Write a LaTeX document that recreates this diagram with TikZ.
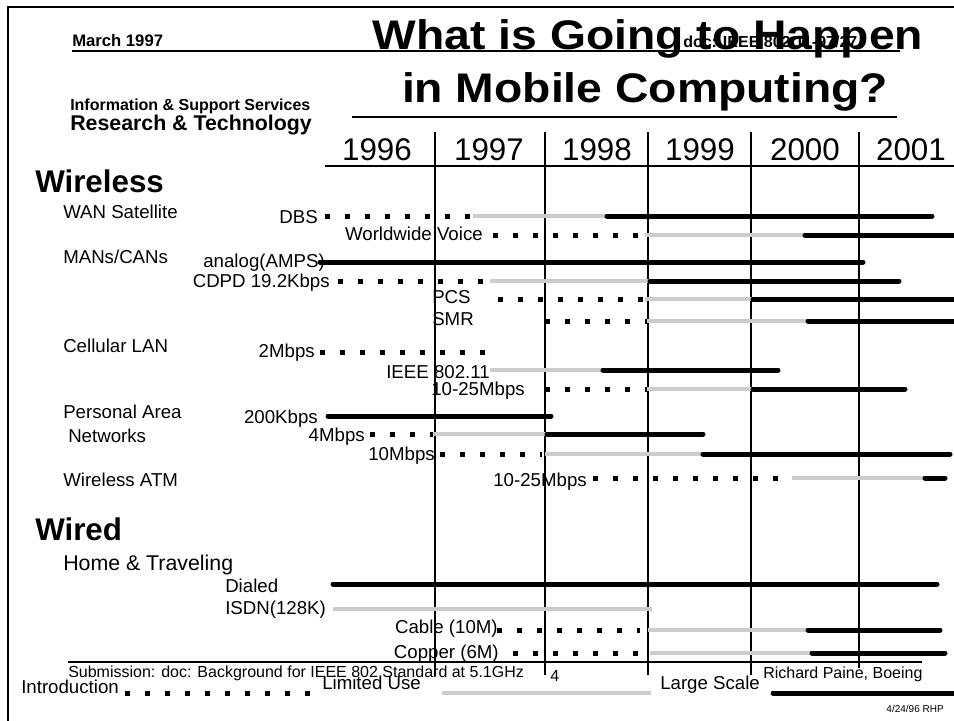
\documentclass[tikz,border=0pt]{standalone}
\usepackage{graphicx}
\usepackage{fontspec}
\setmainfont{Liberation Sans}
\usetikzlibrary{positioning}

\begin{document}
\begin{tikzpicture}[x=0.75pt, y=-0.75pt,
    lbl/.style={inner sep=0pt, font=\fontsize{14}{16}\selectfont},
    year/.style={inner sep=0pt, anchor=base, font=\fontsize{23.5}{26}\selectfont},
    section/.style={inner sep=0pt, anchor=mid west, font=\bfseries\fontsize{23.5}{26}\selectfont},
    headline/.style={inner sep=0pt, anchor=base, font=\bfseries\fontsize{31}{36}\selectfont},
    intro/.style={line width=3.75pt, dash pattern=on 3.75pt off 11.25pt},
    limited/.style={line width=3.2pt, draw=usegray},
    large/.style={line width=3.75pt, line cap=round},
    grid/.style={line width=0.9pt}]
  \definecolor{usegray}{HTML}{CCCCCC}

  \useasboundingbox (0,0) rectangle (954,721);
  \draw[line width=1pt] (8,721) -- (8,7) -- (954,7);

  % header
  \node[inner sep=0pt, anchor=mid west, font=\bfseries\fontsize{12.5}{14}\selectfont] (date) at (72,43) {March 1997};
  \draw[line width=1.2pt] (72,51) -- (900,51);
  \node[inner sep=0pt, anchor=mid west, font=\bfseries\fontsize{12}{14}\selectfont] (docnum) at (683,44) {doc: IEEE 802.11-97/27};
  \node[headline] (title1) at (648,50) {\scalebox{1.12}[1]{What is Going to Happen}};
  \node[headline] (title2) at (645,102) {\scalebox{1.12}[1]{in Mobile Computing?}};
  \draw[line width=1.2pt] (352,117) -- (897,117);
  \node[inner sep=0pt, anchor=mid west, font=\bfseries\fontsize{12}{14}\selectfont] (dept) at (70,107) {Information \& Support Services};
  \node[inner sep=0pt, anchor=mid west, font=\bfseries\fontsize{16}{18}\selectfont] (group) at (70,127) {Research \& Technology};

  % years and grid
  \node[year] (y1996) at (377,160) {1996};
  \node[year] (y1997) at (489,160) {1997};
  \node[year] (y1998) at (597,160) {1998};
  \node[year] (y1999) at (700,160) {1999};
  \node[year] (y2000) at (805,160) {2000};
  \node[year] (y2001) at (911,160) {2001};
  \draw[grid] (325,166) -- (954,166);
  \draw[grid] (435,132) -- (435,676);
  \draw[grid] (545,132) -- (545,675);
  \draw[grid] (648,132) -- (648,675);
  \draw[grid] (751,132) -- (751,675);
  \draw[grid] (859,132) -- (859,668);

  % wireless
  \node[section] (wireless) at (35,189) {Wireless};
  \node[lbl, anchor=mid west] (wan) at (63,215) {WAN Satellite};
  \node[lbl, anchor=mid west] (mans) at (63,260) {MANs/CANs};
  \node[lbl, anchor=mid west] (cellular) at (63,349) {Cellular LAN};
  \node[lbl, anchor=mid west] (pan1) at (63,415) {Personal Area};
  \node[lbl, anchor=mid west] (pan2) at (68,439) {Networks};
  \node[lbl, anchor=mid west] (watm) at (63,483) {Wireless ATM};

  \node[lbl, anchor=mid east] (dbs) at (318,220) {DBS};
  \draw[intro] (325,216) -- (473,216);
  \draw[limited] (473,216) -- (607,216);
  \draw[large] (607,216) -- (932,216);

  \node[lbl, anchor=mid east] (voice) at (483,237) {Worldwide Voice};
  \draw[intro] (493,235) -- (640,235);
  \draw[limited] (645,235) -- (805,235);
  \draw[large] (805,235) -- (960,235);

  \node[lbl, anchor=mid east] (amps) at (325,264) {analog(AMPS)};
  \draw[large] (320,262) -- (863,262);

  \node[lbl, anchor=mid east] (cdpd) at (330,284) {CDPD 19.2Kbps};
  \draw[intro] (338,281) -- (485,281);
  \draw[limited] (490,281) -- (650,281);
  \draw[large] (650,281) -- (899,281);

  \node[lbl, anchor=mid west] (pcs) at (432,300) {PCS};
  \draw[intro] (498,299) -- (645,299);
  \draw[limited] (645,299) -- (753,299);
  \draw[large] (753,299) -- (960,299);

  \node[lbl, anchor=mid west] (smr) at (432,322) {SMR};
  \draw[intro] (545,321) -- (647,321);
  \draw[limited] (647,321) -- (808,321);
  \draw[large] (808,321) -- (960,321);

  \node[lbl, anchor=mid east] (twomb) at (315,354) {2Mbps};
  \draw[intro] (320,352) -- (490,352);

  \node[lbl, anchor=mid east] (ieee) at (490,375) {IEEE 802.11};
  \draw[limited] (490,370) -- (603,370);
  \draw[large] (603,370) -- (778,370);

  \node[lbl, anchor=mid east] (lanhi) at (525,392) {10-25Mbps};
  \draw[intro] (545,389) -- (647,389);
  \draw[limited] (647,389) -- (753,389);
  \draw[large] (753,389) -- (905,389);

  \node[lbl, anchor=mid east] (kbps) at (318,420) {200Kbps};
  \draw[large] (328,416) -- (551,416);

  \node[lbl, anchor=mid east] (fourmb) at (365,438) {4Mbps};
  \draw[intro] (370,434) -- (433,434);
  \draw[limited] (433,434) -- (547,434);
  \draw[large] (547,434) -- (703,434);

  \node[lbl, anchor=mid east] (tenmb) at (435,457) {10Mbps};
  \draw[intro] (440,454) -- (542,454);
  \draw[limited] (545,454) -- (703,454);
  \draw[large] (703,454) -- (950,454);

  \node[lbl, anchor=mid east] (atm) at (587,483) {10-25Mbps};
  \draw[intro] (593,478) -- (780,478);
  \draw[limited] (792,478) -- (925,478);
  \draw[large] (925,478) -- (945,478);

  % wired
  \node[section] (wired) at (35,537) {Wired};
  \node[inner sep=0pt, anchor=mid west, font=\fontsize{16}{18}\selectfont] (home) at (63,567) {Home \& Traveling};

  \node[lbl, anchor=mid west] (dialed) at (225,589) {Dialed};
  \draw[large] (333,584) -- (937,584);

  \node[lbl, anchor=mid west] (isdn) at (225,611) {ISDN(128K)};
  \draw[limited] (333,609) -- (652,609);

  \node[lbl, anchor=mid east] (cable) at (498,630) {Cable (10M)};
  \draw[intro] (497,630) -- (640,630);
  \draw[limited] (648,630) -- (808,630);
  \draw[large] (808,630) -- (940,630);

  \node[lbl, anchor=mid east] (copper) at (499,655) {Copper (6M)};
  \draw[intro] (513,653) -- (640,653);
  \draw[limited] (650,653) -- (812,653);
  \draw[large] (812,653) -- (945,653);

  % footer
  \draw[line width=1pt] (68,662) -- (922,662);
  \node[inner sep=0pt, anchor=mid west, font=\fontsize{12}{14}\selectfont] (submission) at (68,674) {Submission: doc: Background for IEEE 802 Standard at 5.1GHz};
  \node[inner sep=0pt, anchor=mid west, font=\fontsize{12}{14}\selectfont] (page) at (550,678) {4};
  \node[inner sep=0pt, anchor=mid west, font=\fontsize{12}{14}\selectfont] (author) at (763,675) {Richard Paine, Boeing};

  % legend
  \node[lbl, anchor=mid west] (kintro) at (21,690) {Introduction};
  \draw[intro] (125,693) -- (313,693);
  \node[lbl, anchor=mid west] (klimited) at (322,686) {Limited Use};
  \draw[limited] (442,693) -- (651,693);
  \node[lbl, anchor=mid west] (klarge) at (660,686) {Large Scale};
  \draw[large] (773,693) -- (960,693);
  \node[inner sep=0pt, anchor=mid east, font=\fontsize{7.5}{9}\selectfont] (stamp) at (944,709) {4/24/96 RHP};
\end{tikzpicture}
\end{document}
